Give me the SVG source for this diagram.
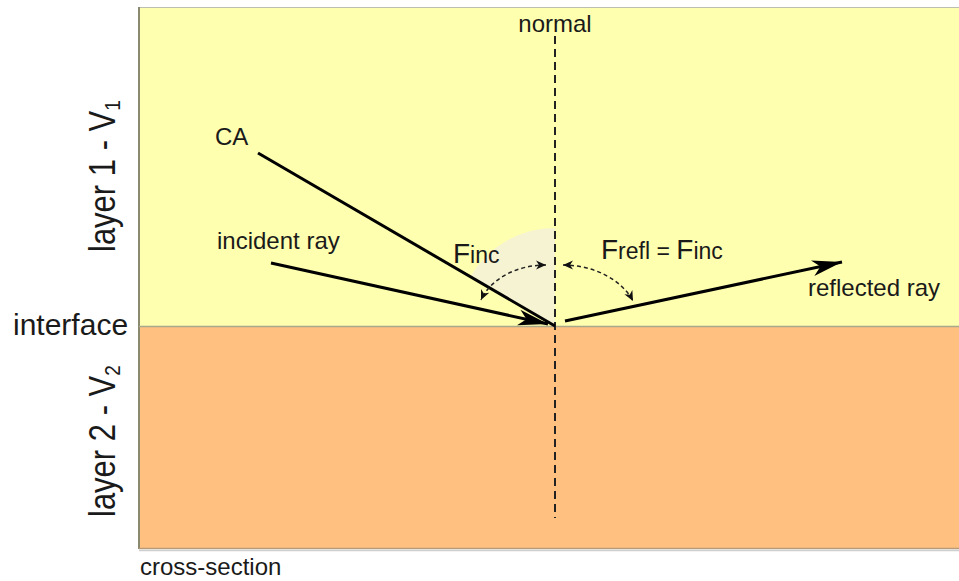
<svg xmlns="http://www.w3.org/2000/svg" width="959" height="581" viewBox="0 0 959 581">
<style>
text{font-family:"Liberation Sans",Arial,sans-serif;fill:#1a1a1a}
.lbl{font-size:24px}
.ray{stroke:#000;stroke-width:3;fill:none}
.arc{stroke:#222;stroke-width:1.5;fill:none;stroke-dasharray:4 3}
</style>
<defs>
<marker id="bigArrow" markerUnits="userSpaceOnUse" viewBox="-32 -10 34 20" refX="0" refY="0" markerWidth="34" markerHeight="20" orient="auto">
<path d="M0,0 L-30,-8 L-22,0 L-30,8 Z" fill="#000"/>
</marker>
<marker id="smallArrow" markerUnits="userSpaceOnUse" viewBox="-11 -6 12 12" refX="0" refY="0" markerWidth="12" markerHeight="12" orient="auto-start-reverse">
<path d="M0,0 L-10,-4.5 L-7,0 L-10,4.5 Z" fill="#111"/>
</marker>
</defs>
<g id="background">
<rect x="139" y="7" width="830" height="320" fill="#FFFFB0"/>
<rect x="139" y="326" width="830" height="222" fill="#FFC080"/>
<line x1="139" y1="7.5" x2="959" y2="7.5" stroke="#bdbdb0" stroke-width="1"/>
<line x1="139" y1="7" x2="139" y2="549" stroke="#8a8a70" stroke-width="2"/>
<line x1="139" y1="548.5" x2="959" y2="548.5" stroke="#b89a78" stroke-width="1.5"/>
<line x1="139" y1="550.5" x2="959" y2="550.5" stroke="#cfcfcf" stroke-width="1.5"/>
<line x1="139" y1="326.5" x2="959" y2="326.5" stroke="#a9a98a" stroke-width="1.5"/>
</g>
<g id="angle-sector">
<path d="M555,326 L555,228 A98,98 0 0 0 470.3,276.7 Z" fill="#F5F3D2"/>
</g>
<g id="normal">
<line x1="555" y1="36" x2="555" y2="518" stroke="#222" stroke-width="2" stroke-dasharray="8 5"/>
<text class="lbl" x="555" y="32" text-anchor="middle">normal</text>
</g>
<g id="connectors">
<line id="ca-line" class="ray" x1="258" y1="153" x2="555" y2="326"/>
<line id="incident" class="ray" x1="271" y1="263" x2="548" y2="324" marker-end="url(#bigArrow)"/>
<line id="reflected" class="ray" x1="565" y1="321" x2="842" y2="262" marker-end="url(#bigArrow)"/>
<path id="arc-inc" class="arc" d="M546,265 C515,265 490,280 481,300" marker-start="url(#smallArrow)" marker-end="url(#smallArrow)"/>
<path id="arc-refl" class="arc" d="M563,265 C594,265 622,280 633,301" marker-start="url(#smallArrow)" marker-end="url(#smallArrow)"/>
</g>
<g id="labels">
<text class="lbl" x="215" y="145">CA</text>
<text class="lbl" x="217" y="249">incident ray</text>
<text class="lbl" x="808" y="296">reflected ray</text>
<text x="13" y="335" font-size="30">interface</text>
<text class="lbl" x="140" y="575">cross-section</text>
<text x="453" y="263"><tspan font-size="28">F</tspan><tspan font-size="23">inc</tspan></text>
<text x="601" y="259"><tspan font-size="28">F</tspan><tspan font-size="23">refl = </tspan><tspan font-size="28">F</tspan><tspan font-size="23">inc</tspan></text>
<text transform="translate(115,252) rotate(-90) scale(1,1.2)" font-size="31">layer 1 - V<tspan font-size="19" dy="4">1</tspan></text>
<text transform="translate(115,517) rotate(-90) scale(1,1.2)" font-size="31">layer 2 - V<tspan font-size="19" dy="4">2</tspan></text>
</g>
</svg>
